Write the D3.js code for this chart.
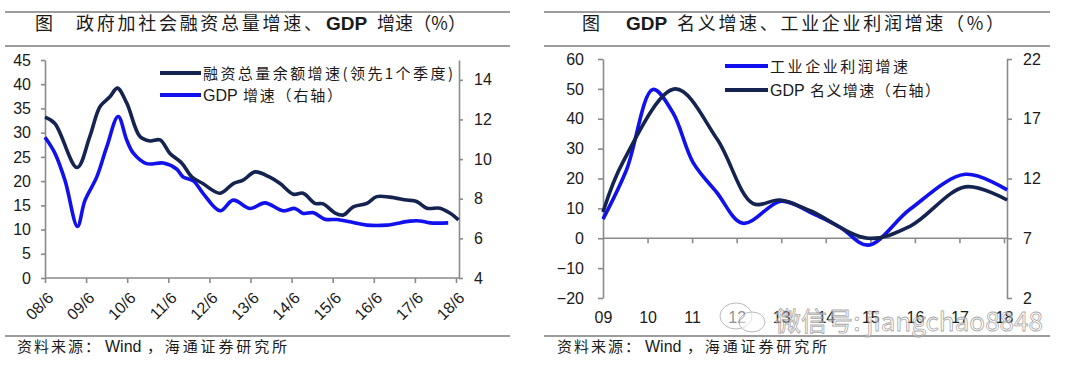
<!DOCTYPE html>
<html><head><meta charset="utf-8">
<script src="https://cdn.jsdelivr.net/npm/d3@7"></script>
<style>
html,body{margin:0;padding:0;background:#fff;}
svg{display:block;font-family:"Liberation Sans",Arial,sans-serif;}
.cjk{font-family:"Noto Sans CJK SC","Liberation Sans",sans-serif;}
.lat{font-family:"Liberation Sans",Arial,sans-serif;}
</style></head>
<body>
<svg id="c" width="1080" height="370"></svg>
<script>
// ---------- Left chart data (decimal years) ----------
const tsfTimes  = [2008.50,2008.74,2009.28,2009.59,2009.84,2010.08,2010.26,2010.49,2010.81,2011.05,2011.30,2011.54,2011.83,2012.07,2012.34,2012.76,2013.08,2013.32,2013.61,2013.97,2014.22,2014.54,2014.78,2015.07,2015.27,2015.56,2015.76,2016.00,2016.33,2016.57,2016.89,2017.30,2017.54,2017.79,2018.11,2018.35,2018.56];
const tsfValues = [33.2,31.9,22.8,29.2,35.4,37.4,39.2,36.1,29.2,28.3,28.5,25.7,23.7,20.9,19.5,17.5,19.5,20.2,21.9,20.8,19.5,17.3,17.5,15.4,15.3,13.4,13.0,14.7,15.4,16.8,16.7,16.1,15.8,14.4,14.4,13.4,12.0];
const gdpTimes  = [2008.50,2008.74,2008.99,2009.29,2009.47,2009.76,2010.00,2010.28,2010.49,2010.65,2010.97,2011.38,2011.70,2011.86,2012.11,2012.35,2012.76,2013.08,2013.49,2013.85,2014.30,2014.58,2014.78,2015.03,2015.31,2015.60,2016.00,2016.33,2016.81,2017.38,2017.62,2017.87,2018.31];
const gdpValues = [11.1,10.3,8.9,6.6,7.9,9.1,10.6,12.15,10.95,10.3,9.77,9.8,9.5,9.1,8.9,8.26,7.39,7.93,7.51,7.79,7.39,7.51,7.26,7.29,6.97,6.95,6.8,6.67,6.67,6.87,6.88,6.78,6.78];
const leftXTicks = ["08/6","09/6","10/6","11/6","12/6","13/6","14/6","15/6","16/6","17/6","18/6"];
const leftYTicks = [0,5,10,15,20,25,30,35,40,45];
const leftY2Ticks = [4,6,8,10,12,14];

// ---------- Right chart data ----------
const profitTimes  = [2009.00,2009.53,2010.12,2010.57,2011.02,2011.55,2012.14,2013.00,2013.65,2014.32,2014.95,2015.89,2017.13,2018.07];
const profitValues = [6.4,23,49.8,42,25.4,15.4,5.0,12.4,8.7,3.7,-2.3,9.7,21.4,16.2];
const nomTimes  = [2009.00,2009.45,2010.62,2011.56,2012.37,2012.97,2013.65,2014.95,2015.89,2017.13,2018.07];
const nomValues = [9.2,13.4,19.5,15.3,9.9,10.2,9.3,7.0,8.0,11.3,10.2];
const rightXTicks = ["09","10","11","12","13","14","15","16","17","18"];
const rightYTicks = [-20,-10,0,10,20,30,40,50,60];
const rightY2Ticks = [2,7,12,17,22];

const NAVY = "#14234f", BLUE = "#1111ee", AX = "#8a8a8a", TXT = "#1a1a1a";
const svg = d3.select("#c");

function styleAxis(g){
  g.select(".domain").attr("stroke",AX).attr("stroke-width",1.6);
  g.selectAll(".tick line").attr("stroke",AX).attr("stroke-width",1.6);
  g.selectAll(".tick text").attr("fill",TXT).attr("font-size",16).attr("font-family","Liberation Sans, Arial, sans-serif");
}

// ---------- Frame lines & titles ----------
function frame(x0,x1){
  [12,46,336].forEach(y=>svg.append("line").attr("x1",x0).attr("x2",x1).attr("y1",y).attr("y2",y).attr("stroke","#3a3a3a").attr("stroke-width",1.2));
}
frame(5,510); frame(544,1050);

function txt(x,y,s,opt={}){
  const t = svg.append("text").attr("x",x).attr("y",y).text(s)
    .attr("fill",opt.fill||TXT).attr("font-size",opt.size||16)
    .attr("class",opt.cls||"cjk");
  if(opt.bold) t.attr("font-weight","bold");
  if(opt.len){ t.attr("textLength",opt.len).attr("lengthAdjust","spacing"); }
  if(opt.anchor) t.attr("text-anchor",opt.anchor);
  return t;
}
// left title
txt(35,30,"图",{size:18});
txt(76,30,"政府加社会融资总量增速、",{size:18,len:246});
txt(326,30,"GDP",{size:19,bold:true,cls:"lat"});
txt(377,30,"增速（%）",{size:18,len:89});
// right title
txt(582,30,"图",{size:18});
txt(626,30,"GDP",{size:19,bold:true,cls:"lat"});
txt(677,30,"名义增速、工业企业利润增速（%）",{size:18,len:327});
// sources
[17,557].forEach(x0=>{
  txt(x0,352,"资料来源：",{size:15,len:83});
  txt(x0+88,352,"Wind",{size:16,cls:"lat"});
  txt(x0+130,352,"，海通证券研究所",{size:15,len:140});
});

// ---------- Left chart ----------
const lx = d3.scaleLinear().domain([2008.5,2018.5]).range([45,456]);
const ly = d3.scaleLinear().domain([0,45]).range([278,60]);
const ly2 = d3.scaleLinear().domain([4,15]).range([278,60]);

const gLY = svg.append("g").attr("transform","translate(45,0)")
  .call(d3.axisLeft(ly).tickValues(leftYTicks).tickSize(4).tickPadding(10).tickSizeOuter(0));
styleAxis(gLY);
const gLY2 = svg.append("g").attr("transform","translate(459,0)")
  .call(d3.axisRight(ly2).tickValues(leftY2Ticks).tickSize(4).tickPadding(11).tickSizeOuter(0));
styleAxis(gLY2);
const gLX = svg.append("g").attr("transform","translate(0,278)")
  .call(d3.axisBottom(lx).tickValues(d3.range(leftXTicks.length).map(i=>2008.5+i))
    .tickFormat((d,i)=>leftXTicks[i]).tickSize(5).tickSizeOuter(0));
styleAxis(gLX);
gLX.select(".domain").attr("d","M45,0H459");
gLX.selectAll(".tick text").attr("text-anchor","end").attr("dy",0).attr("y",0)
  .attr("transform","translate(9,21) rotate(-45)");

const lineL1 = d3.line().x((d,i)=>lx(tsfTimes[i])).y(d=>ly(d)).curve(d3.curveCatmullRom.alpha(0.5));
const lineL2 = d3.line().x((d,i)=>lx(gdpTimes[i])).y(d=>ly2(d)).curve(d3.curveCatmullRom.alpha(0.5));
svg.append("path").attr("d",lineL2(gdpValues)).attr("fill","none").attr("stroke",BLUE).attr("stroke-width",3.6).attr("stroke-linejoin","round");
svg.append("path").attr("d",lineL1(tsfValues)).attr("fill","none").attr("stroke",NAVY).attr("stroke-width",3.6).attr("stroke-linejoin","round");

// left legend
svg.append("line").attr("x1",160).attr("x2",201).attr("y1",73).attr("y2",73).attr("stroke",NAVY).attr("stroke-width",4);
txt(203,79,"融资总量余额增速(领先1个季度)",{size:15,len:250});
svg.append("line").attr("x1",160).attr("x2",201).attr("y1",95).attr("y2",95).attr("stroke",BLUE).attr("stroke-width",4);
txt(203,101,"GDP",{size:16,cls:"lat"});
txt(243,101,"增速（右轴）",{size:15,len:99});

// ---------- Right chart ----------
const rx = d3.scaleLinear().domain([2009,2018]).range([603,1004]);
const ry = d3.scaleLinear().domain([-20,60]).range([298,59]);
const ry2 = d3.scaleLinear().domain([2,22]).range([298,59]);

const gRY = svg.append("g").attr("transform","translate(603,0)")
  .call(d3.axisLeft(ry).tickValues(rightYTicks).tickSize(5).tickPadding(14).tickSizeOuter(0));
styleAxis(gRY);
const gRY2 = svg.append("g").attr("transform","translate(1007,0)")
  .call(d3.axisRight(ry2).tickValues(rightY2Ticks).tickSize(5).tickPadding(11).tickSizeOuter(0));
styleAxis(gRY2);
const gRX = svg.append("g").attr("transform","translate(0,"+ry(0)+")")
  .call(d3.axisBottom(rx).tickValues(d3.range(rightXTicks.length).map(i=>2009+i))
    .tickFormat((d,i)=>rightXTicks[i]).tickSize(5).tickSizeOuter(0));
styleAxis(gRX);
gRX.select(".domain").attr("d","M603,0H1007");
gRX.selectAll(".tick line").filter((d,i)=>i===0).remove();
gRX.selectAll(".tick text").attr("y",ry(-20)-ry(0)+19).attr("dy","0.35em");

const lineR1 = d3.line().x((d,i)=>rx(profitTimes[i])).y(d=>ry(d)).curve(d3.curveCatmullRom.alpha(0.5));
const lineR2 = d3.line().x((d,i)=>rx(nomTimes[i])).y(d=>ry2(d)).curve(d3.curveCatmullRom.alpha(0.5));
svg.append("path").attr("d",lineR1(profitValues)).attr("fill","none").attr("stroke",BLUE).attr("stroke-width",3.6);
svg.append("path").attr("d",lineR2(nomValues)).attr("fill","none").attr("stroke",NAVY).attr("stroke-width",3.6);

// right legend
svg.append("line").attr("x1",725).attr("x2",768).attr("y1",66).attr("y2",66).attr("stroke",BLUE).attr("stroke-width",4);
txt(770,72,"工业企业利润增速",{size:15,len:138});
svg.append("line").attr("x1",725).attr("x2",768).attr("y1",90).attr("y2",90).attr("stroke",NAVY).attr("stroke-width",4);
txt(770,96,"GDP",{size:16,cls:"lat"});
txt(810,96,"名义增速（右轴）",{size:15,len:130});

// ---------- Watermark ----------
const wm = svg.append("g").attr("opacity",0.85);
wm.append("ellipse").attr("cx",736).attr("cy",316).attr("rx",16).attr("ry",13).attr("fill","#fff").attr("fill-opacity",0.6).attr("stroke","#b0b0b0").attr("stroke-width",1);
wm.append("ellipse").attr("cx",752).attr("cy",322).attr("rx",13).attr("ry",10).attr("fill","#fff").attr("fill-opacity",0.6).attr("stroke","#b0b0b0").attr("stroke-width",1);
wm.append("text").attr("x",775).attr("y",331).attr("class","cjk").attr("font-size",26)
  .attr("textLength",268).attr("lengthAdjust","spacing")
  .attr("fill","#ffffff").attr("fill-opacity",0.6).attr("stroke","#9a9a9a").attr("stroke-width",0.8)
  .text("微信号: jiangchao8848");
</script>
</body></html>
